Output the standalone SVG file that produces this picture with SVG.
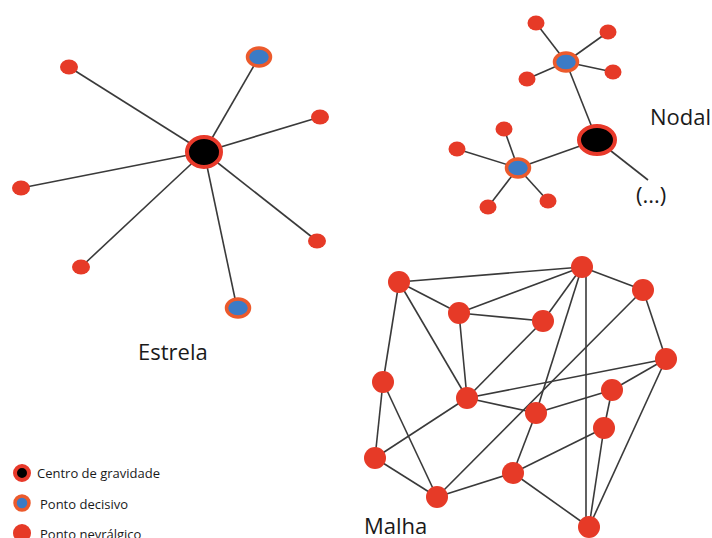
<svg xmlns="http://www.w3.org/2000/svg" width="712" height="538" viewBox="0 0 712 538">
<style>
.e{stroke:#3a3a3a;stroke-width:1.6;fill:none}
.n{fill:#e63a27}
.d{fill:#3b7bc6;stroke:#ec5a2c;stroke-width:3.5}
.c{fill:#000;stroke:#e8392a;stroke-width:4}
.t{font-family:"Open Sans","Liberation Sans",sans-serif;fill:#1a1a1a}
.big{font-size:22px}
.lg{font-size:13px}
</style>
<rect width="712" height="538" fill="#fff"/>
<g id="connectors">
<g id="estrela-edges" class="e">
<line x1="204" y1="152" x2="69" y2="67"/>
<line x1="204" y1="152" x2="259" y2="57"/>
<line x1="204" y1="152" x2="320" y2="117"/>
<line x1="204" y1="152" x2="21" y2="188"/>
<line x1="204" y1="152" x2="81" y2="267"/>
<line x1="204" y1="152" x2="317" y2="241"/>
<line x1="204" y1="152" x2="237" y2="308"/>
</g>
<g id="nodal-edges" class="e">
<line x1="597" y1="140" x2="566" y2="62"/>
<line x1="597" y1="140" x2="518" y2="168"/>
<line x1="597" y1="140" x2="648" y2="180"/>
<line x1="566" y1="62" x2="536" y2="23"/>
<line x1="566" y1="62" x2="608" y2="32"/>
<line x1="566" y1="62" x2="613" y2="72"/>
<line x1="566" y1="62" x2="527" y2="79"/>
<line x1="518" y1="168" x2="504" y2="129"/>
<line x1="518" y1="168" x2="457" y2="149"/>
<line x1="518" y1="168" x2="488" y2="207"/>
<line x1="518" y1="168" x2="548" y2="201"/>
</g>
<g id="malha-edges" class="e">
<line x1="399" y1="282" x2="582" y2="267"/>
<line x1="399" y1="282" x2="459" y2="313"/>
<line x1="399" y1="282" x2="383" y2="382"/>
<line x1="399" y1="282" x2="467" y2="398"/>
<line x1="459" y1="313" x2="582" y2="267"/>
<line x1="459" y1="313" x2="543" y2="321"/>
<line x1="459" y1="313" x2="467" y2="398"/>
<line x1="543" y1="321" x2="582" y2="267"/>
<line x1="582" y1="267" x2="643" y2="290"/>
<line x1="586" y1="267" x2="586" y2="527"/>
<line x1="582" y1="267" x2="536" y2="413"/>
<line x1="643" y1="290" x2="666" y2="359"/>
<line x1="643" y1="290" x2="437" y2="497"/>
<line x1="543" y1="321" x2="467" y2="398"/>
<line x1="467" y1="398" x2="666" y2="359"/>
<line x1="467" y1="398" x2="536" y2="413"/>
<line x1="467" y1="398" x2="375" y2="458"/>
<line x1="383" y1="382" x2="375" y2="458"/>
<line x1="383" y1="382" x2="437" y2="497"/>
<line x1="375" y1="458" x2="437" y2="497"/>
<line x1="437" y1="497" x2="513" y2="473"/>
<line x1="513" y1="473" x2="536" y2="413"/>
<line x1="513" y1="473" x2="604" y2="428"/>
<line x1="513" y1="473" x2="589" y2="527"/>
<line x1="536" y1="413" x2="612" y2="390"/>
<line x1="612" y1="390" x2="666" y2="359"/>
<line x1="612" y1="390" x2="604" y2="428"/>
<line x1="604" y1="428" x2="589" y2="527"/>
<line x1="666" y1="359" x2="589" y2="527"/>
</g>
</g>
<g id="estrela-nodes">
<g id="es-center"><ellipse class="c" cx="204" cy="152" rx="17" ry="15"/></g>
<g id="es-1"><ellipse class="n" cx="69" cy="67" rx="9" ry="7.5"/></g>
<g id="es-2"><ellipse class="d" cx="259" cy="57" rx="11.5" ry="9"/></g>
<g id="es-3"><ellipse class="n" cx="320" cy="117" rx="9" ry="7.5"/></g>
<g id="es-4"><ellipse class="n" cx="21" cy="188" rx="9" ry="7.5"/></g>
<g id="es-5"><ellipse class="n" cx="81" cy="267" rx="9" ry="7.5"/></g>
<g id="es-6"><ellipse class="n" cx="317" cy="241" rx="9" ry="7.5"/></g>
<g id="es-7"><ellipse class="d" cx="238" cy="308" rx="11.5" ry="9"/></g>
</g>
<g id="nodal-nodes">
<g id="no-center"><ellipse class="c" cx="597" cy="140" rx="18" ry="14"/></g>
<g id="no-d1"><ellipse class="d" cx="566" cy="62" rx="11.5" ry="9"/></g>
<g id="no-d2"><ellipse class="d" cx="518" cy="168" rx="11.5" ry="9"/></g>
<g id="no-1"><ellipse class="n" cx="536" cy="23" rx="8.5" ry="7.5"/></g>
<g id="no-2"><ellipse class="n" cx="608" cy="32" rx="8.5" ry="7.5"/></g>
<g id="no-3"><ellipse class="n" cx="613" cy="72" rx="8.5" ry="7.5"/></g>
<g id="no-4"><ellipse class="n" cx="527" cy="79" rx="8.5" ry="7.5"/></g>
<g id="no-5"><ellipse class="n" cx="504" cy="129" rx="8.5" ry="7.5"/></g>
<g id="no-6"><ellipse class="n" cx="457" cy="149" rx="8.5" ry="7.5"/></g>
<g id="no-7"><ellipse class="n" cx="488" cy="207" rx="8.5" ry="7.5"/></g>
<g id="no-8"><ellipse class="n" cx="548" cy="201" rx="8.5" ry="7.5"/></g>
</g>
<g id="malha-nodes" class="n">
<g id="ma-a"><circle cx="399" cy="282" r="11"/></g>
<g id="ma-b"><circle cx="582" cy="267" r="11"/></g>
<g id="ma-c"><circle cx="643" cy="290" r="11"/></g>
<g id="ma-d"><circle cx="459" cy="313" r="11"/></g>
<g id="ma-e"><circle cx="543" cy="321" r="11"/></g>
<g id="ma-f"><circle cx="666" cy="359" r="11"/></g>
<g id="ma-g"><circle cx="383" cy="382" r="11"/></g>
<g id="ma-h"><circle cx="467" cy="398" r="11"/></g>
<g id="ma-i"><circle cx="612" cy="390" r="11"/></g>
<g id="ma-j"><circle cx="536" cy="413" r="11"/></g>
<g id="ma-k"><circle cx="604" cy="428" r="11"/></g>
<g id="ma-l"><circle cx="375" cy="458" r="11"/></g>
<g id="ma-m"><circle cx="513" cy="473" r="11"/></g>
<g id="ma-n"><circle cx="437" cy="497" r="11"/></g>
<g id="ma-o"><circle cx="589" cy="527" r="11"/></g>
</g>
<g id="labels">
<text class="t big" x="138" y="360">Estrela</text>
<text class="t big" x="650" y="125">Nodal</text>
<text class="t big" x="636" y="203">(...)</text>
<text class="t big" x="364" y="534">Malha</text>
</g>
<g id="legend">
<g id="lg-centro"><ellipse class="c" cx="22" cy="473" rx="7" ry="7" stroke-width="3"/><text class="t lg" x="37" y="478">Centro de gravidade</text></g>
<g id="lg-decisivo"><ellipse class="d" cx="22" cy="503" rx="7" ry="7" stroke-width="3"/><text class="t lg" x="40" y="509">Ponto decisivo</text></g>
<g id="lg-nevralgico"><circle class="n" cx="22" cy="533" r="9"/><text class="t lg" x="40" y="539">Ponto nevrálgico</text></g>
</g>
</svg>
